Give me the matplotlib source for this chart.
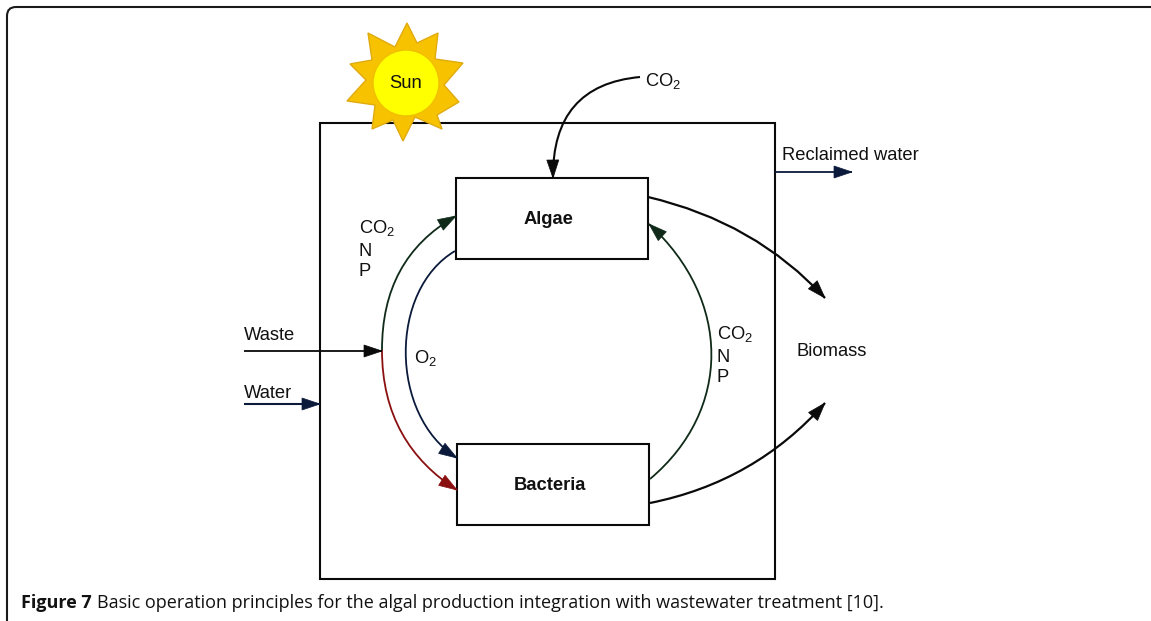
import matplotlib
matplotlib.use("Agg")
import numpy as np
import matplotlib.pyplot as plt
from matplotlib.patches import Rectangle, Circle, Polygon, PathPatch, FancyBboxPatch
from matplotlib.path import Path

plt.rcParams['mathtext.fontset'] = 'custom'
plt.rcParams['mathtext.rm'] = 'Liberation Sans'
plt.rcParams['mathtext.default'] = 'rm'

FONT = 'Liberation Sans'
BLACK = '#0a0a0a'
NAVY = '#0b1a3a'
GREEN = '#0f2a18'
RED = '#8a1010'

SUN_STAR = [(407,23),(417,43),(438,33),(435,59),(463,63),(444,85),(459,102),(437,115),
            (442,129),(415,117),(403,141),(393,120),(372,129),(375,105),(347,101),(366,80),
            (350,64),(372,60),(368,33),(395,47)]
# boxes: x0, y0, x1, y1
REACTOR = (320,123,775,579)
ALGAE = (456,178,648,259)
BACTERIA = (457,444,649,525)
# curves: control points, colour, width
CURVES = [
    ([(640,77),(552,85),(553,178)], BLACK, 1.5),
    ([(648,197),(755,222),(825,298)], BLACK, 1.6),
    ([(650,503),(755,482),(825,403)], BLACK, 1.6),
    ([(650,479),(732,410),(732,300),(649,224)], GREEN, 1.3),
    ([(382,350),(382,290),(405,245),(456,216)], GREEN, 1.3),
    ([(382,350),(382,415),(410,460),(457,490)], RED, 1.3),
    ([(455,251),(389,290),(389,415),(457,458)], NAVY, 1.3),
    ([(244,351),(382,351)], BLACK, 1.3),
    ([(244,404),(320,404)], NAVY, 1.5),
    ([(775,172),(852,172)], NAVY, 1.3),
]
LABELS = [
    ('Sun',406,84,'center',False),
    ('CO$_2$',645,81,'left',False),
    ('Reclaimed water',782,156,'left',False),
    ('Algae',548,220,'center',True),
    ('Bacteria',550,486,'center',True),
    ('CO$_2$',359,228,'left',False),
    ('N',359,251,'left',False),
    ('P',359,271,'left',False),
    ('Waste',244,336,'left',False),
    ('Water',244,394,'left',False),
    ('O$_2$',414,358,'left',False),
    ('CO$_2$',717,334,'left',False),
    ('N',717,357,'left',False),
    ('P',717,378,'left',False),
    ('Biomass',797,352,'left',False),
]
CAPTION_BOLD = 'Figure 7'
CAPTION = 'Basic operation principles for the algal production integration with wastewater treatment [10].'

fig = plt.figure(figsize=(11.51,6.21), dpi=100)
ax = fig.add_axes([0,0,1,1])
ax.set_xlim(0,1151); ax.set_ylim(621,0); ax.axis('off')

ax.add_patch(FancyBboxPatch((7,7),1300,640,boxstyle='round,pad=0,rounding_size=9',
                            fc='none',ec='#1a1a1a',lw=1.5))

def box(b, lw=1.5):
    ax.add_patch(Rectangle((b[0],b[1]),b[2]-b[0],b[3]-b[1],fc='white',ec=BLACK,lw=lw,zorder=2))
box(REACTOR)

def curve(pts,c,lw):
    codes = {2:[Path.MOVETO,Path.LINETO],3:[Path.MOVETO,Path.CURVE3,Path.CURVE3],
             4:[Path.MOVETO,Path.CURVE4,Path.CURVE4,Path.CURVE4]}[len(pts)]
    ax.add_patch(PathPatch(Path(pts,codes),fc='none',ec=c,lw=lw,zorder=3))
    p=np.array(pts,float); tip=p[-1]
    d=p[-1]-p[-2]; d/=np.hypot(*d); n=np.array([-d[1],d[0]])
    L,W=18,6
    ax.add_patch(Polygon([tip,tip-d*L+n*W,tip-d*L-n*W],closed=True,fc=c,ec=c,lw=0.5,zorder=4))
for pts,c,lw in CURVES:
    curve(pts,c,lw)

box(ALGAE); box(BACTERIA)

ax.add_patch(Polygon(SUN_STAR,closed=True,fc='#f7c200',ec='#e0ab10',lw=1,zorder=5))
ax.add_patch(Circle((406,83),33,fc='#ffff00',ec='#f0c000',lw=1,zorder=6))

for t,x,y,ha,bold in LABELS:
    ax.text(x,y,t,ha=ha,va='center',family=FONT,fontsize=13.2,
            fontweight='bold' if bold else 'normal',color='#111111',zorder=7)

t1 = ax.text(21,603,CAPTION_BOLD,ha='left',va='center',family='Open Sans',fontsize=13.0,fontweight='bold',color='#111111')
fig.canvas.draw()
bb = t1.get_window_extent()
ax.text(bb.x1+5,603,CAPTION,ha='left',va='center',family='Open Sans',fontsize=13.0,color='#111111')
fig.savefig('out.png',dpi=100)
